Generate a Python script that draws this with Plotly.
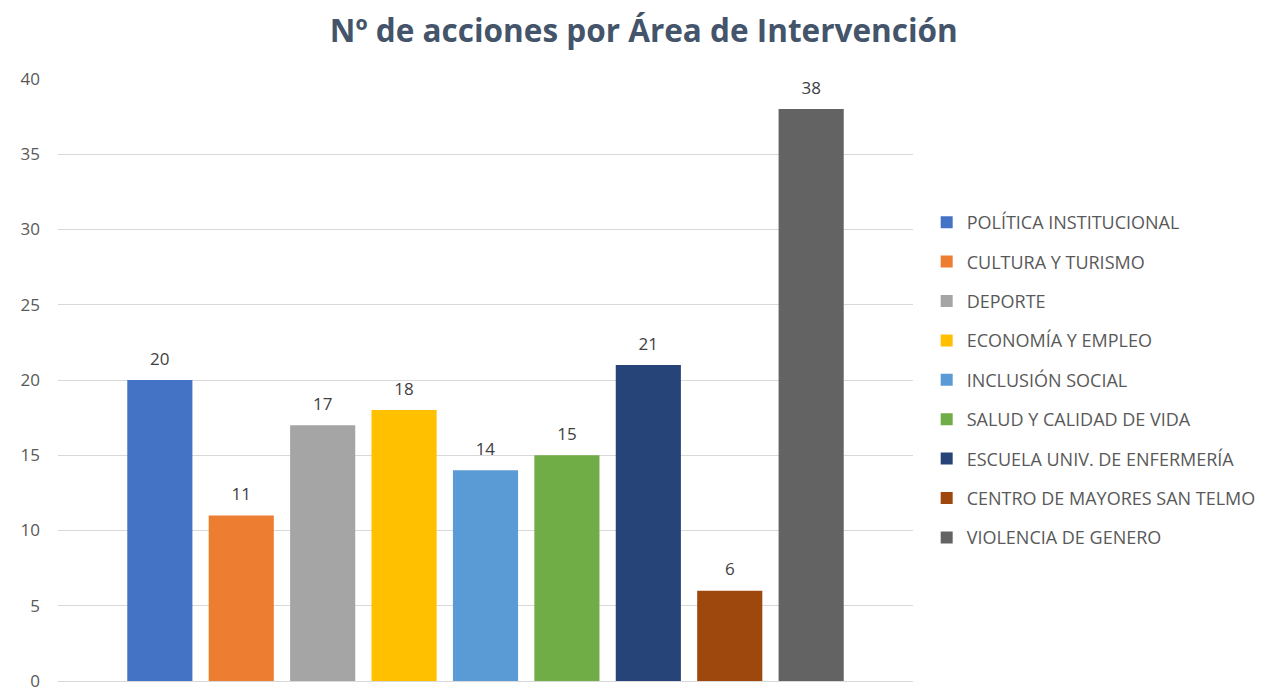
import plotly.graph_objects as go

categories = ["POLÍTICA INSTITUCIONAL", "CULTURA Y TURISMO", "DEPORTE", "ECONOMÍA Y EMPLEO",
              "INCLUSIÓN SOCIAL", "SALUD Y CALIDAD DE VIDA", "ESCUELA UNIV. DE ENFERMERÍA",
              "CENTRO DE MAYORES SAN TELMO", "VIOLENCIA DE GENERO"]
values = [20, 11, 17, 18, 14, 15, 21, 6, 38]
colors = ["#4472C4", "#ED7D31", "#A5A5A5", "#FFC000", "#5B9BD5", "#70AD47", "#264478", "#9E480E", "#636363"]
group_label = ["Total"]
y_ticks = [0, 5, 10, 15, 20, 25, 30, 35, 40]

FONT = "Open Sans"
fig = go.Figure()
for i, (name, v, c) in enumerate(zip(categories, values, colors)):
    fig.add_trace(go.Bar(
        x=group_label, y=[v], name=name, marker_color=c, marker_line_width=0,
        text=[f"<span style='font-size:17px'>{v}</span><br> "], textposition="outside", cliponaxis=False,
        textfont=dict(family=FONT, size=8, color="#404040"),
        legendgroup=f"g{i}",
    ))

fig.update_layout(
    width=1259, height=680,
    paper_bgcolor="white", plot_bgcolor="white",
    barmode="group", bargap=0.143, bargroupgap=0.2,
    margin=dict(l=50, r=354, t=71, b=7, autoexpand=False),
    title=dict(text="<b>Nº de acciones por Área de Intervención</b>", x=0.505, xanchor="center",
               y=0.966, yanchor="middle",
               font=dict(family=FONT, size=31.5, color="#44546A")),
    legend=dict(x=1.016, xanchor="left", y=0.5, yanchor="middle",
                font=dict(family=FONT, size=18, color="#595959"),
                tracegroupgap=13, itemwidth=30, bgcolor="rgba(0,0,0,0)"),
    showlegend=True,
)
fig.update_xaxes(showticklabels=False, showgrid=False, zeroline=False, showline=False, automargin=False)
fig.update_yaxes(range=[0, 40], tickvals=y_ticks, showgrid=True, gridcolor="#D9D9D9", gridwidth=1,
                 zeroline=True, zerolinecolor="#D9D9D9", zerolinewidth=1,
                 tickfont=dict(family=FONT, size=17, color="#595959"),
                 ticklabelstandoff=17, ticklabeloverflow="allow", showline=False, automargin=False)

fig.write_html("out.html")
